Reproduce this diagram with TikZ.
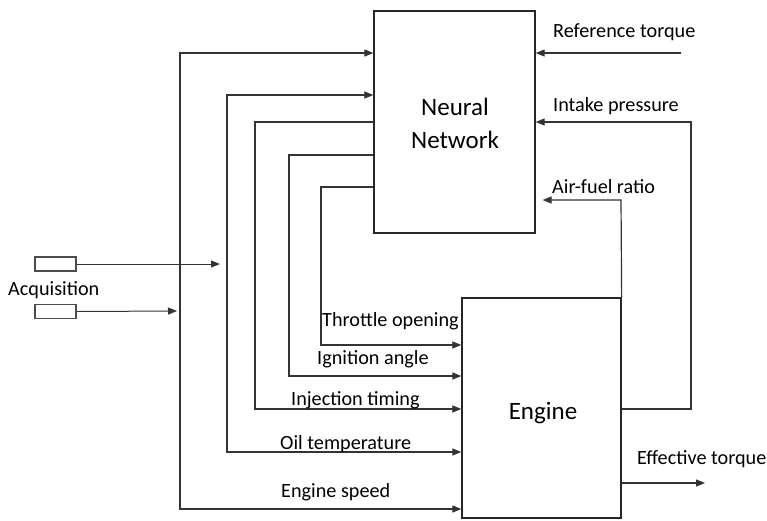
\documentclass[tikz,border=0pt]{standalone}
\usepackage{fontspec}
\setmainfont{Carlito}
\usetikzlibrary{arrows.meta}
\begin{document}
\begin{tikzpicture}[x=1pt,y=-1pt,
  line/.style={draw=black!80,line width=1.2pt},
  arr/.style={line,-{Triangle[length=9pt,width=7pt]}},
  barr/.style={line,{Triangle[length=9pt,width=7pt]}-{Triangle[length=9pt,width=7pt]}},
  blk/.style={draw=black!85,line width=1.3pt,inner sep=0pt},
  lbl/.style={anchor=base west,inner sep=0pt,font=\fontsize{20.2}{22}\selectfont},
  big/.style={font=\fontsize{25}{33}\selectfont,align=center}]
\useasboundingbox (0,0) rectangle (767,520);
% blocks
\node[blk,minimum width=161pt,minimum height=222pt] (nn) at (454.5,122) {};
\node[blk,minimum width=159pt,minimum height=220pt] (eng) at (541.5,408) {};
\node[blk,draw=black!70,minimum width=41pt,minimum height=14pt] (acq1) at (55.5,264) {};
\node[blk,draw=black!70,minimum width=41pt,minimum height=14pt] (acq2) at (55.5,311.5) {};
% block texts
\node[big,anchor=base] (nnt1) at (455,115) {Neural};
\node[big,anchor=base] (nnt2) at (455,148) {Network};
\node[big,anchor=base] (engt) at (543,419) {Engine};
% coordinates
\coordinate (a1e) at (220,264);
\coordinate (a2e) at (177,311);
\coordinate (rt) at (681,53);
\coordinate (et) at (705,483);
% left bus lines
\draw[barr] (nn.west |- 0,53) -| (180,509) -- (eng.west |- 0,509);
\draw[barr] (nn.west |- 0,95) -| (227,452) -- (eng.west |- 0,452);
\draw[arr] (nn.west |- 0,122) -| (255,409) -- (eng.west |- 0,409);
\draw[arr] (nn.west |- 0,155) -| (289,376) -- (eng.west |- 0,376);
\draw[arr] (nn.west |- 0,187) -| (321,345) -- (eng.west |- 0,345);
% acquisition
\draw[arr,line width=1pt] (acq1.east) -- (a1e);
\draw[arr,line width=1pt] (acq2.east) -- (a2e);
% right side
\draw[arr] (rt) -- (nn.east |- rt);
\draw[arr] (eng.east |- 0,409) -- (691,409) -- (691,122) -- (nn.east |- 0,122);
\draw[arr,shorten >=7pt] (eng.north east) -- (621,200) -- (nn.east |- 0,200);
\draw[arr] (eng.east |- et) -- (et);
% labels
\node[lbl] (l1) at (553,37) {Reference torque};
\node[lbl] (l2) at (553,111) {Intake pressure};
\node[lbl] (l3) at (552,193) {Air-fuel ratio};
\node[lbl] (l4) at (322,326) {Throttle opening};
\node[lbl] (l5) at (317,364) {Ignition angle};
\node[lbl] (l6) at (291,405) {Injection timing};
\node[lbl] (l7) at (280,449) {Oil temperature};
\node[lbl] (l8) at (281,497) {Engine speed};
\node[lbl] (l9) at (637,464) {Effective torque};
\node[lbl] (l10) at (8,295) {Acquisition};
\end{tikzpicture}
\end{document}
